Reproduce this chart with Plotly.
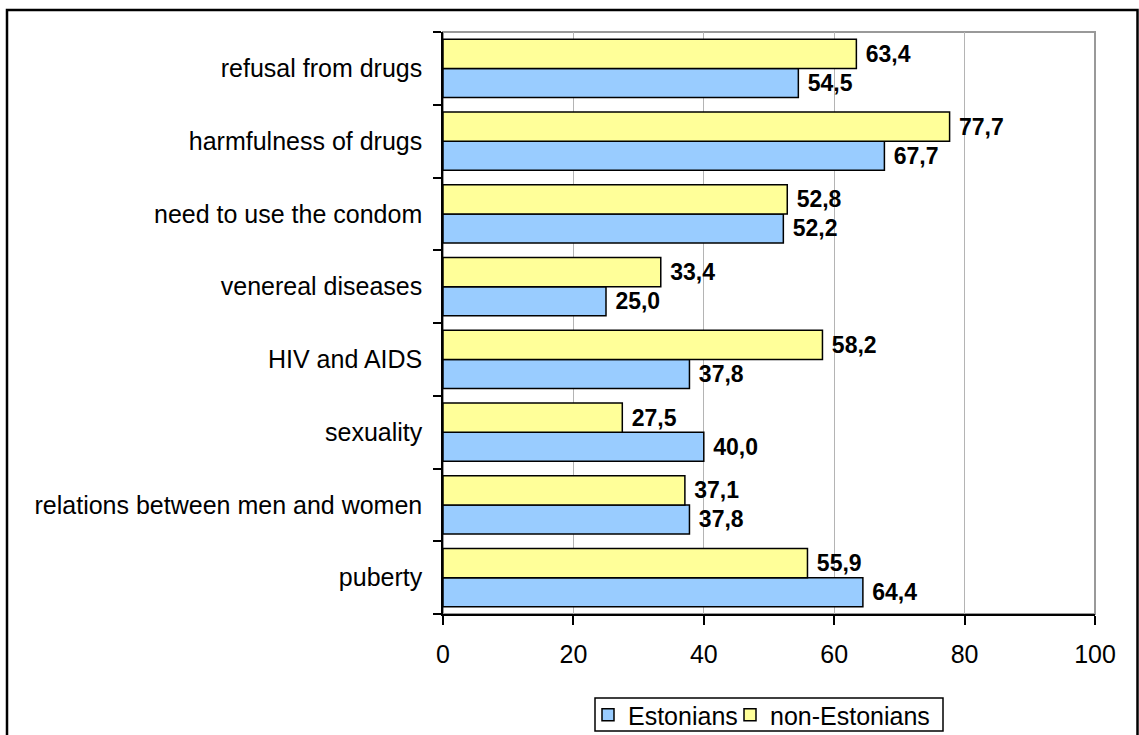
import plotly.graph_objects as go

categories = [
    "puberty",
    "relations between men and women",
    "sexuality",
    "HIV and AIDS",
    "venereal diseases",
    "need to use the condom",
    "harmfulness of drugs",
    "refusal from drugs",
]
estonians = [64.4, 37.8, 40.0, 37.8, 25.0, 52.2, 67.7, 54.5]
non_estonians = [55.9, 37.1, 27.5, 58.2, 33.4, 52.8, 77.7, 63.4]
x_ticks = [0, 20, 40, 60, 80, 100]

FONT = "Arial, Liberation Sans, sans-serif"
FS = 25
LFS = 23


def fmt(vals):
    return ["\u00a0" + f"{v:.1f}".replace(".", ",") for v in vals]


fig = go.Figure()
fig.add_trace(go.Bar(
    y=categories, x=estonians, orientation="h", name="Estonians",
    marker=dict(color="#99CCFF", line=dict(color="#000000", width=1.5)),
    text=fmt(estonians), textposition="outside", constraintext="none",
    cliponaxis=False, legend="legend",
    textfont=dict(family=FONT, size=LFS, color="#000000", weight="bold"),
))
fig.add_trace(go.Bar(
    y=categories, x=non_estonians, orientation="h", name="non-Estonians",
    marker=dict(color="#FFFF99", line=dict(color="#000000", width=1.5)),
    text=fmt(non_estonians), textposition="outside", constraintext="none",
    cliponaxis=False, legend="legend2",
    textfont=dict(family=FONT, size=LFS, color="#000000", weight="bold"),
))

L, R, T, B = 443, 44, 32, 121
W, H = 1139, 735
pw, ph = W - L - R, H - T - B


def px_x(x):
    return (x - L) / pw


def px_y(y):
    return (T + ph - y) / ph


leg_common = dict(
    orientation="h", xanchor="left", y=px_y(715), yanchor="middle",
    borderwidth=0, bgcolor="rgba(0,0,0,0)",
    font=dict(family=FONT, size=FS, color="#000000"),
    itemwidth=30, tracegroupgap=0,
)

fig.update_layout(
    width=W, height=H,
    margin=dict(l=L, r=R, t=T, b=B, pad=0, autoexpand=False),
    paper_bgcolor="white", plot_bgcolor="white",
    barmode="group", bargap=0.2, bargroupgap=0,
    font=dict(family=FONT, size=FS, color="#000000"),
    showlegend=True,
    legend=dict(x=px_x(588), **leg_common),
    legend2=dict(x=px_x(730), **leg_common),
    xaxis=dict(
        range=[0, 100], tickvals=x_ticks, ticks="outside", ticklen=9,
        tickcolor="#000000", tickwidth=1.5,
        showline=True, linecolor="#000000", linewidth=1.5,
        showgrid=True, gridcolor="#B4B4B4", gridwidth=1,
        zeroline=False, ticklabelstandoff=8,
    ),
    yaxis=dict(
        type="category", range=[-0.5, 7.5],
        ticks="outside", tickson="boundaries", ticklen=8,
        tickcolor="#000000", tickwidth=1.5,
        showline=True, linecolor="#000000", linewidth=1.5,
        showgrid=False, zeroline=False, ticklabelstandoff=14,
    ),
    shapes=[
        dict(type="rect", xref="paper", yref="paper", x0=0, x1=1, y0=0, y1=1,
             line=dict(color="#999999", width=2), layer="below"),
        dict(type="rect", xref="paper", yref="paper",
             x0=px_x(7), x1=px_x(1137.5), y0=px_y(745), y1=px_y(10),
             line=dict(color="#000000", width=2.5)),
        dict(type="rect", xref="paper", yref="paper",
             x0=px_x(595), x1=px_x(943), y0=px_y(731), y1=px_y(698),
             line=dict(color="#000000", width=1.5)),
    ],
)

fig.write_html(
    "out.html",
    config={"displayModeBar": False},
    post_script="document.body.style.margin='0';document.body.style.overflow='hidden';",
)
